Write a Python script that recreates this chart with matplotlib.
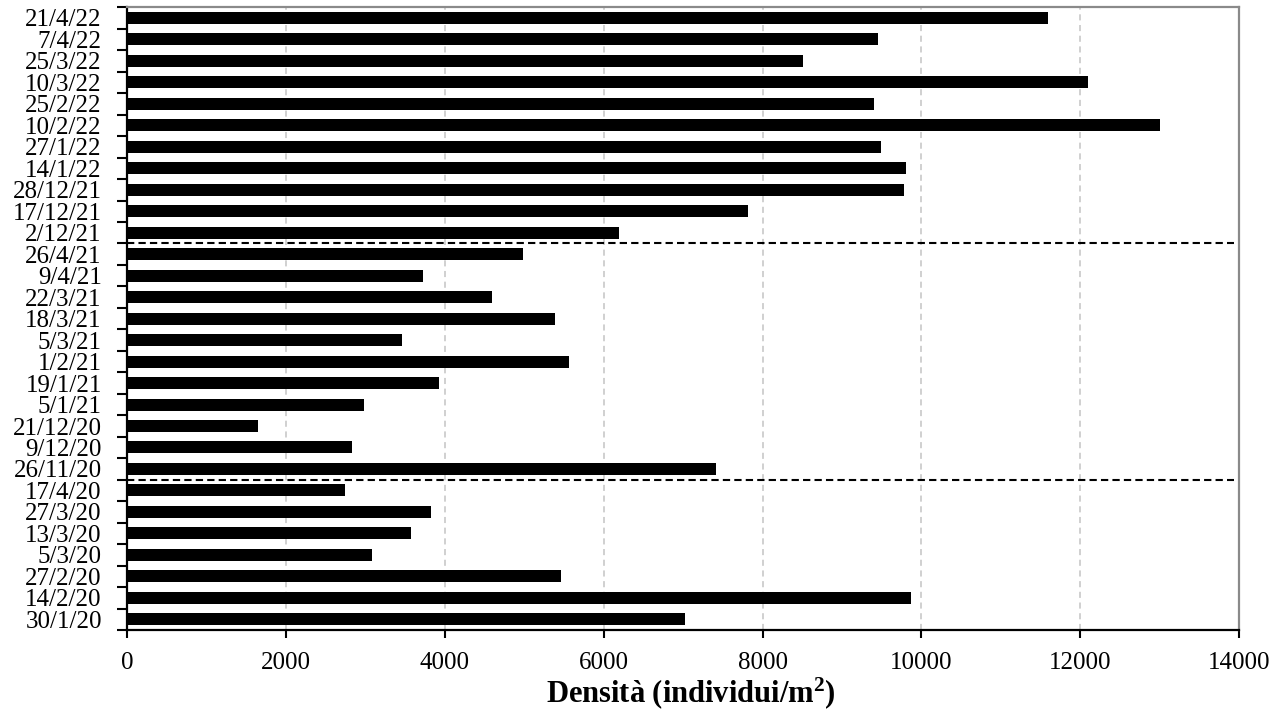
import numpy as np
import matplotlib.pyplot as plt
from matplotlib.ticker import FixedLocator

# sampling dates, oldest first (bottom of the chart)
dates = [
    "30/1/20", "14/2/20", "27/2/20", "5/3/20", "13/3/20", "27/3/20", "17/4/20",
    "26/11/20", "9/12/20", "21/12/20", "5/1/21", "19/1/21", "1/2/21", "5/3/21",
    "18/3/21", "22/3/21", "9/4/21", "26/4/21",
    "2/12/21", "17/12/21", "28/12/21", "14/1/22", "27/1/22", "10/2/22", "25/2/22",
    "10/3/22", "25/3/22", "7/4/22", "21/4/22",
]

# density, individuals per m2
density = [
    7020, 9870, 5460, 3080, 3580, 3830, 2750,
    7420, 2830, 1650, 2980, 3930, 5570, 3460,
    5390, 4590, 3730, 4990,
    6190, 7815, 9780, 9805, 9495, 13005, 9400,
    12095, 8515, 9450, 11590,
]

# last index of each season (2020, 2020/21); a dashed line goes above it
season_ends = [6, 17]

plt.rcParams['font.family'] = ['Liberation Serif', 'DejaVu Serif']
plt.rcParams['mathtext.fontset'] = 'custom'
plt.rcParams['mathtext.rm'] = 'Liberation Serif'
plt.rcParams['mathtext.bf'] = 'Liberation Serif:bold'
plt.rcParams['mathtext.default'] = 'bf'

fig = plt.figure(figsize=(12.87, 7.24), dpi=100)
ax = fig.add_axes([0.0985, 0.1298, 0.8645, 0.8602])

y = np.arange(len(dates))
ax.barh(y, density, height=0.56, color='black', zorder=3)

for i in season_ends:
    ax.axhline(i + 0.5, xmin=0, xmax=0.995, color='black', lw=1.5,
               linestyle=(0, (3.5, 2)), zorder=4)

ax.set_xlim(0, 14000)
ax.set_ylim(-0.5, len(dates) - 0.5)
ax.set_xticks(np.arange(0, 14001, 2000))
ax.tick_params(axis='x', labelsize=18, length=6, width=1.5, pad=10, direction='out')

ax.set_yticks(y)
ax.set_yticklabels(dates)
ax.yaxis.set_minor_locator(FixedLocator(np.arange(-0.5, len(dates), 1)))
ax.tick_params(axis='y', which='major', labelsize=18, length=0, pad=18)
ax.tick_params(axis='y', which='minor', length=7, width=1.5, direction='out')

ax.xaxis.grid(True, color='#c4c4c4', lw=1.1, linestyle=(0, (4, 3)), zorder=0)
ax.set_axisbelow(True)

for side in ['left', 'bottom']:
    ax.spines[side].set_color('black')
    ax.spines[side].set_linewidth(1.6)
for side in ['top', 'right']:
    ax.spines[side].set_color('#8a8a8a')
    ax.spines[side].set_linewidth(1.6)

ax.set_xlabel('Densità (individui/m$^{2}$)', fontsize=22, fontweight='bold')
ax.xaxis.set_label_coords(0.507, -0.073)

fig.savefig('out.png', dpi=100)
